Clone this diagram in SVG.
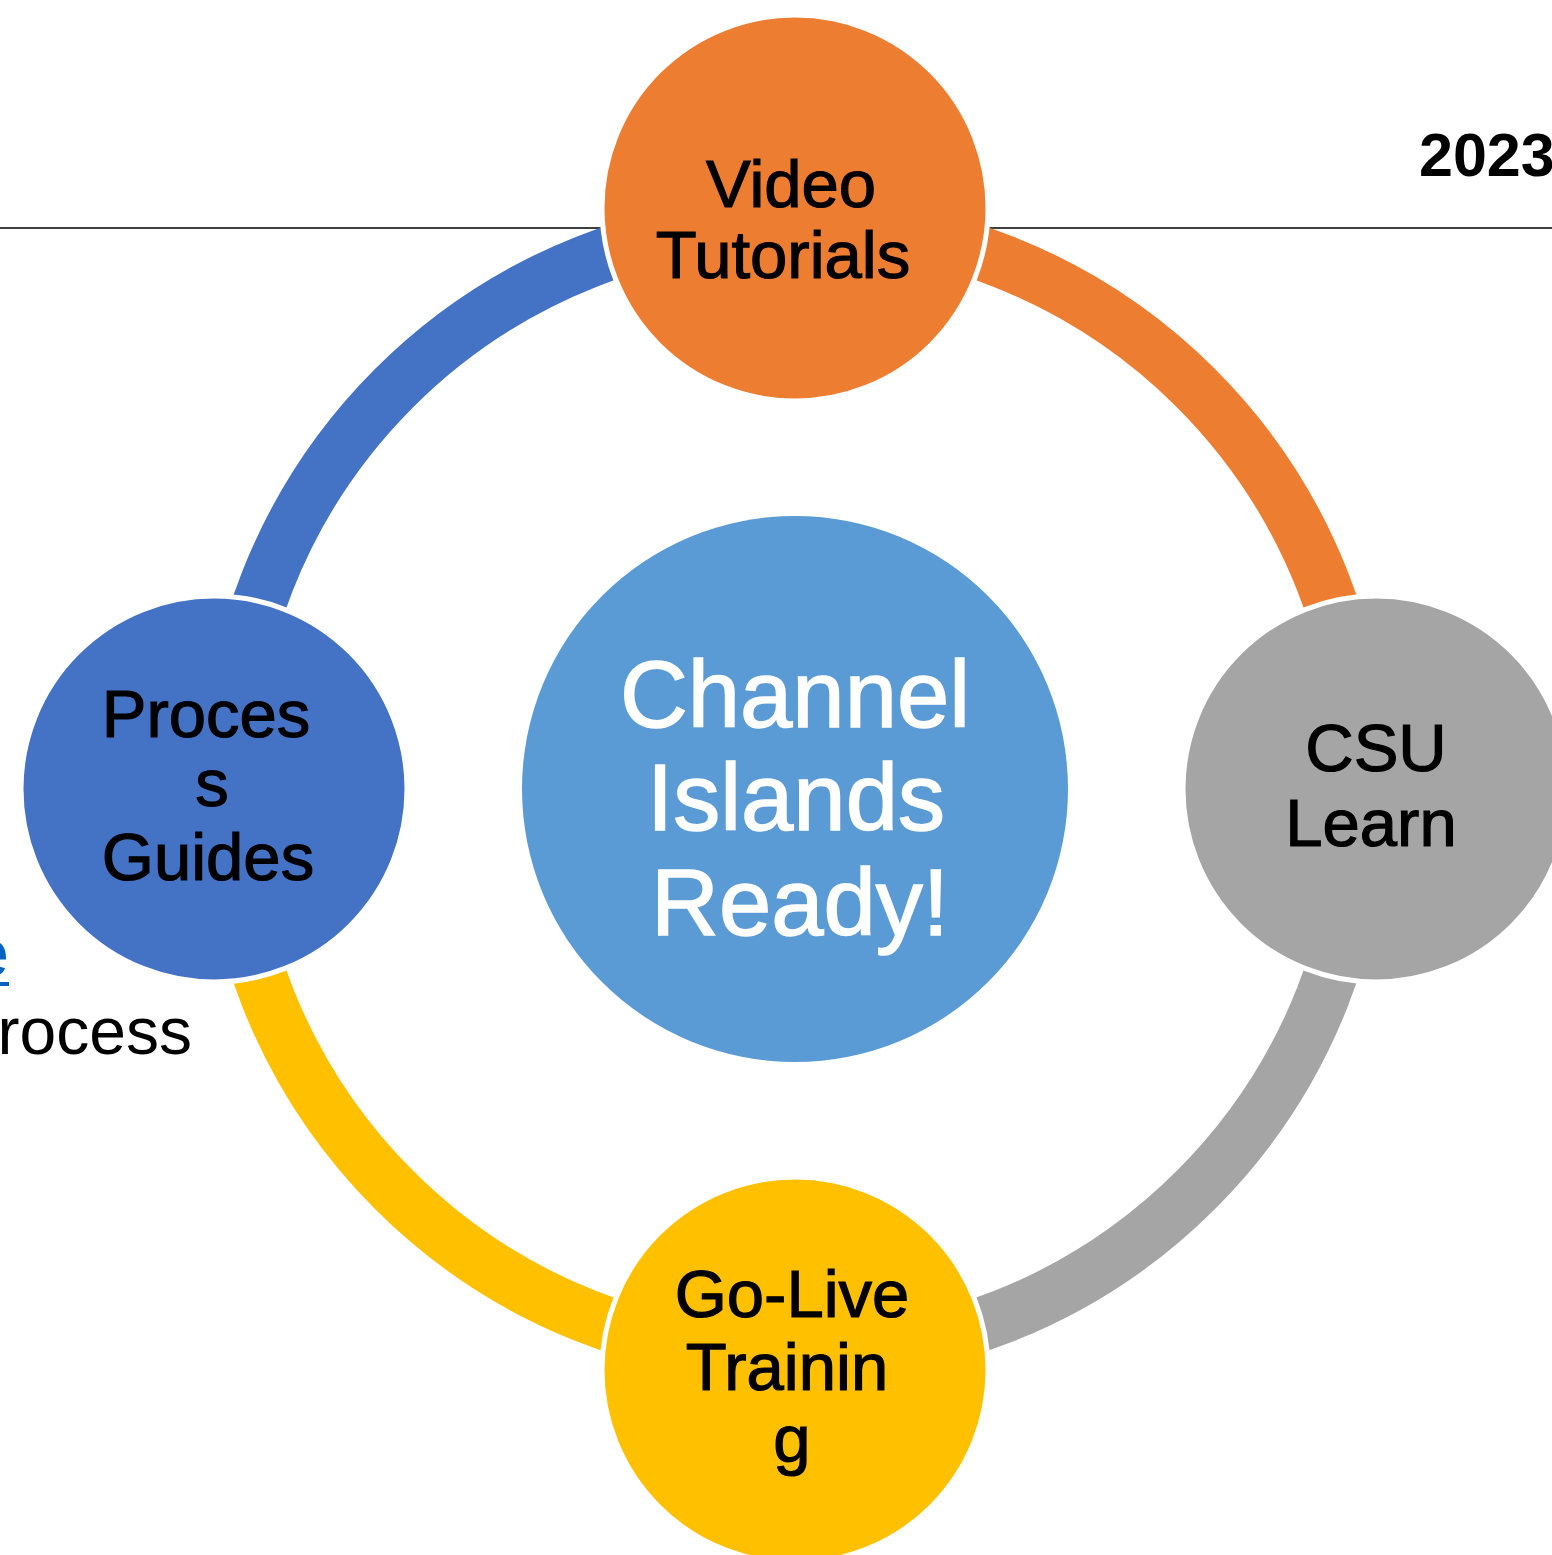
<svg xmlns="http://www.w3.org/2000/svg" width="1552" height="1555" viewBox="0 0 1552 1555">
  <style>
    .lbl { font-family: "Liberation Sans", Arial, sans-serif; font-size: 67px; fill: #000; stroke: #000; stroke-width: 1.2; text-anchor: middle; }
    .hub { font-family: "Liberation Sans", Arial, sans-serif; font-size: 94px; fill: #fff; stroke: #fff; stroke-width: 1.5; text-anchor: middle; }
    .bg { font-family: "Liberation Sans", Arial, sans-serif; }
    .band { fill: none; stroke-width: 54; }
    .node { stroke: #fff; stroke-width: 5; }
  </style>

  <rect width="1552" height="1555" fill="#fff"/>

  <!-- page background: header rule and text behind the diagram -->
  <g id="page">
    <line x1="0" y1="228" x2="1552" y2="228" stroke="#000" stroke-width="1.5"/>
    <text class="bg" x="1419" y="176" font-size="61" font-weight="bold">2023</text>
    <text class="bg" x="9" y="976" font-size="66" fill="#0563C1" text-anchor="end">e</text>
    <line x1="0" y1="984" x2="9" y2="984" stroke="#0563C1" stroke-width="4"/>
    <text class="bg" x="192" y="1054" font-size="66" fill="#000" text-anchor="end">rocess</text>
  </g>

  <!-- ring segments linking the nodes -->
  <g id="connectors">
    <path class="band" stroke="#4472C4" d="M228,789 A567,567 0 0 1 795,222"/>
    <path class="band" stroke="#ED7D31" d="M795,222 A567,567 0 0 1 1362,789"/>
    <path class="band" stroke="#A5A5A5" d="M1362,789 A567,567 0 0 1 795,1356"/>
    <path class="band" stroke="#FFC000" d="M795,1356 A567,567 0 0 1 228,789"/>
  </g>

  <g id="hub">
    <circle cx="795" cy="789" r="273" fill="#5B9BD5"/>
    <text class="hub" x="795" y="727">Channel</text>
    <text class="hub" x="796" y="830">Islands</text>
    <text class="hub" x="800" y="935">Ready!</text>
  </g>

  <g id="video-tutorials">
    <circle class="node" cx="795" cy="208" r="193" fill="#ED7D31"/>
    <text class="lbl" x="791" y="207">Video</text>
    <text class="lbl" x="783" y="278">Tutorials</text>
  </g>

  <g id="csu-learn">
    <circle class="node" cx="1376" cy="789" r="193" fill="#A5A5A5"/>
    <text class="lbl" x="1376" y="771">CSU</text>
    <text class="lbl" x="1371" y="846">Learn</text>
  </g>

  <g id="go-live-training">
    <circle class="node" cx="795" cy="1370" r="193" fill="#FFC000"/>
    <text class="lbl" x="792" y="1317">Go-Live</text>
    <text class="lbl" x="787" y="1390">Trainin</text>
    <text class="lbl" x="792" y="1462">g</text>
  </g>

  <g id="process-guides">
    <circle class="node" cx="214" cy="789" r="193" fill="#4472C4"/>
    <text class="lbl" x="206" y="737">Proces</text>
    <text class="lbl" x="212" y="806">s</text>
    <text class="lbl" x="208" y="880">Guides</text>
  </g>
</svg>
